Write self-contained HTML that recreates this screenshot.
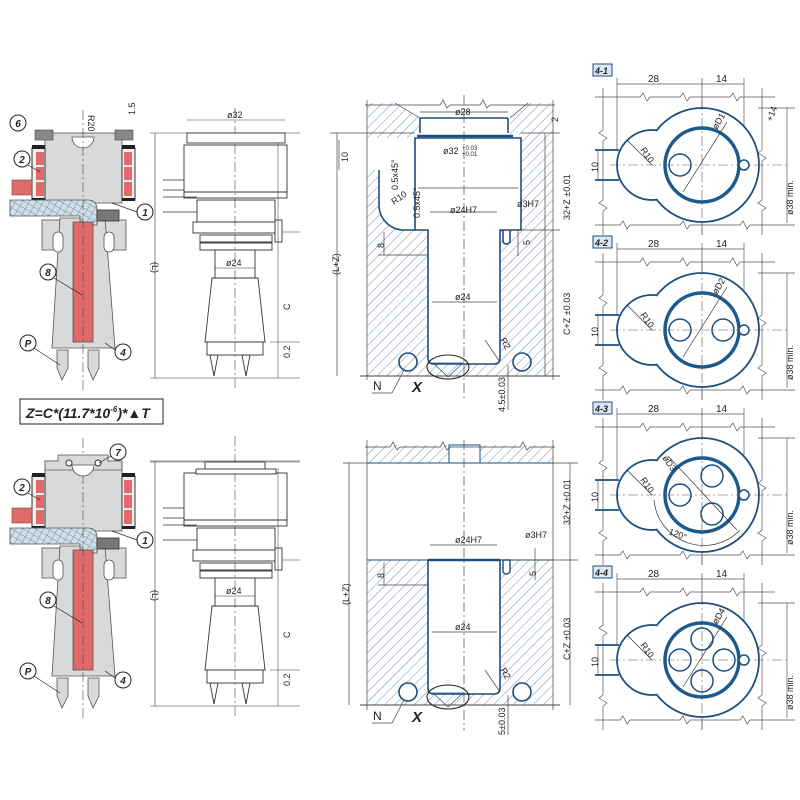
<!DOCTYPE html>
<html><head><meta charset="utf-8"><style>
html,body{margin:0;padding:0;background:#fff}
svg{display:block}
text{font-family:"Liberation Sans",sans-serif;fill:#222}
</style></head><body>
<svg width="800" height="800" viewBox="0 0 800 800" xmlns="http://www.w3.org/2000/svg">
<defs>
<pattern id="h" patternUnits="userSpaceOnUse" width="7" height="7" patternTransform="rotate(45)">
<rect width="7" height="7" fill="#fff"/><line x1="0" y1="0" x2="0" y2="7" stroke="#7d97b3" stroke-width="1.1"/></pattern>
<pattern id="br" patternUnits="userSpaceOnUse" width="6" height="6" patternTransform="rotate(30)">
<rect width="6" height="6" fill="#cfe0e8"/><line x1="0" y1="0" x2="0" y2="6" stroke="#7a8c99" stroke-width="1"/><line x1="0" y1="0" x2="6" y2="0" stroke="#7a8c99" stroke-width="1"/></pattern>

<g id="xs">
<rect x="45" y="133" width="77" height="70" fill="#d9d9d9" stroke="#555" stroke-width="0.8"/>
<path d="M72 137 A11 11 0 0 0 94 137 Z" fill="#fff" stroke="#555" stroke-width="0.8"/>
<rect x="32" y="148" width="13" height="52" fill="#eee" stroke="#333"/>
<rect x="36" y="152" width="8" height="13" fill="#e06a6a"/><rect x="36" y="167" width="8" height="13" fill="#e06a6a"/><rect x="36" y="182" width="8" height="14" fill="#e06a6a"/>
<rect x="122" y="148" width="13" height="52" fill="#eee" stroke="#333"/>
<rect x="124" y="152" width="8" height="13" fill="#e06a6a"/><rect x="124" y="167" width="8" height="13" fill="#e06a6a"/><rect x="124" y="182" width="8" height="14" fill="#e06a6a"/>
<rect x="32" y="145" width="13" height="4" fill="#222"/><rect x="122" y="145" width="13" height="4" fill="#222"/>
<rect x="32" y="198" width="13" height="3" fill="#222"/><rect x="122" y="198" width="13" height="3" fill="#222"/>
<rect x="12" y="180" width="20" height="15" fill="#e06a6a" stroke="#555" stroke-width="0.6"/>
<rect x="42" y="220" width="33" height="30" fill="#d9d9d9" stroke="#555" stroke-width="0.8"/>
<rect x="98" y="220" width="28" height="30" fill="#d9d9d9" stroke="#555" stroke-width="0.8"/>
<path d="M60 218 L105 218 L115 348 L52 348 Z" fill="#d9d9d9" stroke="#555" stroke-width="0.8"/>
<rect x="53" y="232" width="10" height="20" rx="5" fill="#fff" stroke="#555" stroke-width="0.8"/>
<rect x="104" y="232" width="10" height="20" rx="5" fill="#fff" stroke="#555" stroke-width="0.8"/>
<path d="M10 200 L88 200 Q97 200 97 210 L97 225 L80 225 L80 216 L10 216 Z" fill="url(#br)" stroke="#555" stroke-width="0.8"/>
<rect x="97" y="210" width="22" height="11" fill="#777" stroke="#333" stroke-width="0.8"/>
<rect x="73" y="222" width="20" height="120" fill="#e06a6a" stroke="#555" stroke-width="0.8"/>
<path d="M57 350 L68 350 L68 368 L62 380 L57 368 Z" fill="#d9d9d9" stroke="#555" stroke-width="0.8"/>
<path d="M88 350 L99 350 L99 368 L93 380 L88 368 Z" fill="#d9d9d9" stroke="#555" stroke-width="0.8"/>
<line x1="83" y1="110" x2="83" y2="390" stroke="#444" stroke-width="0.6" stroke-dasharray="10 3 2 3"/>
<g fill="#fff" stroke="#222" stroke-width="1">
<circle cx="145" cy="212" r="8"/><circle cx="22" cy="159" r="8"/><circle cx="48" cy="272" r="8"/><circle cx="123" cy="352" r="8"/><circle cx="28" cy="343" r="8"/></g>
<g stroke="#222" stroke-width="0.7"><line x1="137" y1="212" x2="112" y2="203"/><line x1="28" y1="165" x2="40" y2="172"/><line x1="54" y1="278" x2="82" y2="295"/><line x1="115" y1="350" x2="105" y2="343"/><line x1="34" y1="348" x2="60" y2="365"/></g>
</g>

<g id="mv" fill="#fff" stroke="#333" stroke-width="0.9">
<rect x="184" y="145" width="103" height="53"/>
<line x1="184" y1="192" x2="287" y2="192"/>
<rect x="197" y="200" width="78" height="22"/>
<rect x="193" y="222" width="85" height="11"/>
<rect x="200" y="235" width="72" height="7"/><rect x="200" y="243" width="72" height="7"/>
<rect x="215" y="250" width="40" height="28"/>
<path d="M212 278 L258 278 L265 342 L205 342 Z"/>
<rect x="207" y="342" width="56" height="13"/>
<path d="M210 355 L218 355 L214 376 Z"/><path d="M242 355 L250 355 L246 376 Z"/>
<line x1="163" y1="180" x2="184" y2="180" stroke-width="0.7"/><line x1="163" y1="190" x2="184" y2="190" stroke-width="0.7"/>
<line x1="163" y1="197" x2="197" y2="197" stroke-width="0.7"/><line x1="163" y1="212" x2="197" y2="212" stroke-width="0.7"/>
<rect x="275" y="220" width="7" height="22"/>
<line x1="235" y1="108" x2="235" y2="390" stroke="#444" stroke-width="0.6" stroke-dasharray="10 3 2 3"/>
<line x1="155" y1="133" x2="155" y2="378" stroke-width="0.6"/>
<line x1="150" y1="378" x2="300" y2="378" stroke-width="0.6"/>
<line x1="270" y1="342" x2="300" y2="342" stroke-width="0.6"/>
<line x1="150" y1="133" x2="300" y2="133" stroke-width="0.6"/>
<line x1="283" y1="232" x2="300" y2="232" stroke-width="0.6"/>
<line x1="215" y1="268" x2="255" y2="268" stroke-width="0.6"/>
<line x1="278" y1="140" x2="278" y2="378" stroke-width="0.5"/>
</g>

<g id="cm">
<g stroke="#555" stroke-width="0.7" fill="none">
<line x1="617" y1="78" x2="617" y2="150"/><line x1="744" y1="78" x2="744" y2="160"/><line x1="702" y1="78" x2="702" y2="235"/>
<line x1="617" y1="84" x2="744" y2="84"/>
<path d="M595 97 L640 97 L643 93 L647 101 L650 97 L680 97 L683 93 L687 101 L690 97 L730 97 L733 93 L737 101 L740 97 L775 97"/>
<path d="M595 225 L620 225 L623 221 L627 229 L630 225 L680 225 L683 221 L687 229 L690 225 L740 225 L743 221 L747 229 L750 225 L795 225"/>
<path d="M603 88 L603 130 L599 133 L607 138 L603 141 L603 200 L599 203 L607 208 L603 211 L603 235"/>
<path d="M762 88 L762 150 L758 153 L766 158 L762 161 L762 200 L758 203 L766 208 L762 211 L762 235"/>
<line x1="787" y1="108" x2="787" y2="223"/><line x1="758" y1="108" x2="795" y2="108"/>
<line x1="598" y1="150" x2="598" y2="180"/>
</g>
<circle cx="652" cy="165" r="35" fill="#fff" stroke="#1c4f80" stroke-width="1.8"/>
<circle cx="702" cy="165" r="57" fill="#fff" stroke="#1c4f80" stroke-width="1.8"/>
<circle cx="652" cy="165" r="34" fill="#fff"/>
<circle cx="702" cy="165" r="56" fill="#fff"/>
<line x1="595" y1="150" x2="619" y2="150" stroke="#1c4f80" stroke-width="1.8"/><line x1="595" y1="180" x2="619" y2="180" stroke="#1c4f80" stroke-width="1.8"/>
<line x1="610" y1="165" x2="790" y2="165" stroke="#555" stroke-width="0.6" stroke-dasharray="10 3 2 3"/>
<line x1="702" y1="100" x2="702" y2="235" stroke="#555" stroke-width="0.6" stroke-dasharray="10 3 2 3"/>
<circle cx="702" cy="165" r="37" fill="none" stroke="#1c5a8c" stroke-width="3.5"/>
<circle cx="744" cy="165" r="5" fill="#fff" stroke="#1c4f80" stroke-width="1.5"/>
<line x1="627" y1="140" x2="652" y2="165" stroke="#333" stroke-width="0.7"/>
</g>
</defs>

<!-- TOP ROW -->
<use href="#xs"/>
<use href="#mv"/>
<rect x="35" y="130" width="18" height="10" fill="#888" stroke="#444" stroke-width="0.6"/>
<rect x="115" y="130" width="18" height="10" fill="#888" stroke="#444" stroke-width="0.6"/>
<rect x="187" y="133" width="98" height="10" fill="#fff" stroke="#333" stroke-width="0.9"/>
<line x1="187" y1="120" x2="285" y2="120" stroke="#444" stroke-width="0.6"/>
<g font-size="10" font-style="italic" font-weight="bold" text-anchor="middle">
<text x="145" y="216">1</text><text x="22" y="163">2</text><text x="48" y="276">8</text><text x="123" y="356">4</text><text x="28" y="347">P</text>
<circle cx="18" cy="123" r="8" fill="#fff" stroke="#222"/><text x="18" y="127">6</text>
</g>
<g font-size="9" fill="#222">
<text x="88" y="115" transform="rotate(90 88 115)">R20</text>
<text x="135" y="115" transform="rotate(-90 135 115)">1.5</text>
<text x="227" y="118">ø32</text><text x="226" y="266">ø24</text>
<text x="152" y="262" transform="rotate(90 152 262)">(L)</text>
<text x="290" y="310" transform="rotate(-90 290 310)">C</text>
<text x="290" y="358" transform="rotate(-90 290 358)">0.2</text>
</g>

<!-- section 3 top -->
<rect x="367" y="103" width="186" height="273" fill="url(#h)"/>
<g fill="#fff">
<path d="M395 103 L420 118 L510 118 L528 103 Z"/>
<rect x="420" y="115" width="90" height="20"/>
<rect x="415" y="135" width="106" height="95"/>
<path d="M367 138 L415 138 L415 230 L403 230 A25 25 0 0 1 379 205 L379 170 L367 170 Z"/>
<path d="M428 230 L500 230 L500 358 Q500 364 494 364 L434 364 Q428 364 428 358 Z"/>
<rect x="503" y="230" width="7" height="14"/>
</g>
<g fill="none" stroke="#1c4f80" stroke-width="1.6">
<path d="M379 170 L379 205 A25 25 0 0 0 403 230 L428 230 L428 358 Q428 364 434 364 L494 364 Q500 364 500 358 L500 230 L521 230 L521 138 L415 138 L415 230"/>
<line x1="417" y1="136" x2="513" y2="136" stroke-width="2.5"/>
<path d="M420 118 L420 133 M508 118 L508 133 M420 118 L508 118"/>
<path d="M503 230 L503 242 Q506 246 510 242 L510 230"/>
<circle cx="408" cy="362" r="9"/><circle cx="522" cy="362" r="9"/>
</g>
<g fill="none" stroke="#444" stroke-width="0.7">
<path d="M395 103 L420 118 M528 103 L510 118"/>
<path d="M365 105 L440 105 L443 100 L447 108 L450 105 L480 105 L483 100 L487 108 L490 105 L555 105"/>
<path d="M367 100 L367 380"/><path d="M553 100 L553 380"/>
<line x1="360" y1="376" x2="560" y2="376" stroke="#444" stroke-width="1"/>
<ellipse cx="448" cy="367" rx="21" ry="12" stroke="#222" stroke-width="1.1"/>
<path d="M433 363 L463 363 L448 377 Z" stroke="#1c4f80"/>
<line x1="337" y1="133" x2="337" y2="376"/><line x1="330" y1="133" x2="415" y2="133"/>
<line x1="339" y1="140" x2="339" y2="170"/>
<line x1="545" y1="133" x2="545" y2="376"/><line x1="521" y1="133" x2="560" y2="133"/><line x1="500" y1="230" x2="560" y2="230"/>
<line x1="420" y1="112" x2="508" y2="112"/><line x1="418" y1="188" x2="518" y2="188"/>
<line x1="430" y1="212" x2="497" y2="212"/><line x1="432" y1="302" x2="497" y2="302"/>
<line x1="464" y1="95" x2="464" y2="400" stroke-dasharray="10 3 2 3"/>
<line x1="384" y1="232" x2="384" y2="255"/><line x1="378" y1="255" x2="428" y2="255"/>
<line x1="518" y1="230" x2="518" y2="256"/>
<line x1="404" y1="370" x2="392" y2="393"/><line x1="372" y1="393" x2="392" y2="393"/>
<line x1="508" y1="365" x2="508" y2="410"/>
<line x1="485" y1="340" x2="500" y2="362"/>
</g>
<g font-size="9">
<text x="455" y="115">ø28</text>
<text x="443" y="154">ø32</text><text x="462" y="150" font-size="6">+0.03</text><text x="462" y="156" font-size="6">+0.01</text>
<text x="450" y="213">ø24H7</text><text x="517" y="207">ø3H7</text><text x="455" y="300">ø24</text>
<text x="348" y="162" transform="rotate(-90 348 162)">10</text>
<text x="398" y="190" transform="rotate(-90 398 190)">0.5x45°</text>
<text x="420" y="218" transform="rotate(-90 420 218)">0.5x45°</text>
<text x="394" y="205" transform="rotate(-35 394 205)">R10</text>
<text x="384" y="248" transform="rotate(-90 384 248)">8</text>
<text x="530" y="245" transform="rotate(-90 530 245)">5</text>
<text x="558" y="122" transform="rotate(-90 558 122)">2</text>
<text x="570" y="220" transform="rotate(-90 570 220)">32+Z ±0.01</text>
<text x="570" y="335" transform="rotate(-90 570 335)">C+Z ±0.03</text>
<text x="500" y="340" transform="rotate(60 500 340)">R2</text>
<text x="339" y="275" transform="rotate(-90 339 275)">(L+Z)</text>
<text x="505" y="412" transform="rotate(-90 505 412)">4.5±0.03</text>
<text x="373" y="390" font-size="12">N</text>
<text x="412" y="392" font-size="15" font-style="italic" font-weight="bold">X</text>
</g>

<!-- formula -->
<rect x="20" y="399" width="143" height="25" fill="#fff" stroke="#222" stroke-width="1"/>
<text x="26" y="418" font-size="14" font-style="italic" font-weight="bold">Z=C*(11.7*10<tspan font-size="8" dy="-6">-6</tspan><tspan dy="6">)*▲T</tspan></text>

<!-- BOTTOM ROW -->
<use href="#xs" transform="translate(0,328)"/>
<use href="#mv" transform="translate(0,328)"/>
<g font-size="10" font-style="italic" font-weight="bold" text-anchor="middle">
<text x="145" y="544">1</text><text x="22" y="491">2</text><text x="48" y="604">8</text><text x="123" y="684">4</text><text x="28" y="675">P</text>
</g>
<path d="M45 461 L58 461 L58 455 L108 455 L108 461 L122 461 L122 470 L45 470 Z" fill="#d9d9d9" stroke="#555" stroke-width="0.8"/>
<path d="M72 465 A11 11 0 0 0 94 465 Z" fill="#fff" stroke="#555" stroke-width="0.8"/>
<circle cx="69" cy="463" r="3" fill="#fff" stroke="#333"/><circle cx="98" cy="463" r="3" fill="#fff" stroke="#333"/>
<circle cx="118" cy="452" r="8" fill="#fff" stroke="#222"/>
<line x1="111" y1="456" x2="99" y2="463" stroke="#222" stroke-width="0.7"/>
<text x="118" y="456" font-size="10" font-style="italic" font-weight="bold" text-anchor="middle">7</text>
<rect x="205" y="462" width="60" height="11" fill="#fff" stroke="#333" stroke-width="0.9"/>
<rect x="196" y="469" width="80" height="5" fill="#fff" stroke="#333" stroke-width="0.9"/>
<line x1="150" y1="462" x2="300" y2="462" stroke="#444" stroke-width="0.6"/>
<g font-size="9" fill="#222">
<text x="226" y="594">ø24</text>
<text x="152" y="590" transform="rotate(90 152 590)">(L)</text>
<text x="290" y="638" transform="rotate(-90 290 638)">C</text>
<text x="290" y="686" transform="rotate(-90 290 686)">0.2</text>
</g>

<!-- section 3 bottom -->
<rect x="367" y="445" width="186" height="18" fill="url(#h)"/>
<rect x="449" y="445" width="31" height="18" fill="#fff" stroke="#1c4f80" stroke-width="1"/>
<rect x="367" y="560" width="186" height="145" fill="url(#h)"/>
<path d="M428 560 L500 560 L500 688 Q500 694 494 694 L434 694 Q428 694 428 688 Z" fill="#fff" stroke="#1c4f80" stroke-width="1.6"/>
<line x1="367" y1="463" x2="553" y2="463" stroke="#1c4f80" stroke-width="1"/>
<line x1="367" y1="560" x2="553" y2="560" stroke="#1c4f80" stroke-width="1"/>
<line x1="428" y1="560" x2="500" y2="560" stroke="#1c4f80" stroke-width="2.5"/>
<path d="M503 560 L503 572 Q506 576 510 572 L510 560 Z" fill="#fff" stroke="#1c4f80" stroke-width="1.4"/>
<circle cx="408" cy="692" r="9" fill="#fff" stroke="#1c4f80" stroke-width="1.6"/><circle cx="522" cy="692" r="9" fill="#fff" stroke="#1c4f80" stroke-width="1.6"/>
<g fill="none" stroke="#444" stroke-width="0.7">
<path d="M365 447 L390 447 L393 442 L397 450 L400 447 L440 447 L443 442 L447 450 L450 447 L520 447 L523 442 L527 450 L530 447 L555 447"/>
<path d="M367 440 L367 710"/><path d="M553 440 L553 710"/>
<line x1="360" y1="705" x2="560" y2="705" stroke-width="1"/>
<ellipse cx="448" cy="697" rx="21" ry="12" stroke="#222" stroke-width="1.1"/>
<path d="M433 693 L463 693 L448 707 Z" stroke="#1c4f80"/>
<line x1="349" y1="463" x2="349" y2="705"/><line x1="343" y1="463" x2="367" y2="463"/>
<line x1="570" y1="463" x2="570" y2="705"/><line x1="553" y1="463" x2="578" y2="463"/><line x1="510" y1="560" x2="578" y2="560"/>
<line x1="430" y1="545" x2="497" y2="545"/><line x1="432" y1="632" x2="497" y2="632"/>
<line x1="464" y1="440" x2="464" y2="730" stroke-dasharray="10 3 2 3"/>
<line x1="384" y1="562" x2="384" y2="585"/><line x1="378" y1="585" x2="428" y2="585"/>
<line x1="535" y1="548" x2="535" y2="580"/>
<line x1="404" y1="700" x2="392" y2="723"/><line x1="372" y1="723" x2="392" y2="723"/>
<line x1="508" y1="695" x2="508" y2="735"/>
<line x1="485" y1="670" x2="500" y2="692"/>
</g>
<g font-size="9">
<text x="455" y="543">ø24H7</text><text x="525" y="538">ø3H7</text><text x="455" y="630">ø24</text>
<text x="384" y="578" transform="rotate(-90 384 578)">8</text>
<text x="536" y="576" transform="rotate(-90 536 576)">5</text>
<text x="570" y="525" transform="rotate(-90 570 525)">32+Z ±0.01</text>
<text x="570" y="660" transform="rotate(-90 570 660)">C+Z ±0.03</text>
<text x="500" y="670" transform="rotate(60 500 670)">R2</text>
<text x="349" y="605" transform="rotate(-90 349 605)">(L+Z)</text>
<text x="505" y="735" transform="rotate(-90 505 735)">5±0.03</text>
<text x="373" y="720" font-size="12">N</text>
<text x="412" y="722" font-size="15" font-style="italic" font-weight="bold">X</text>
</g>

<!-- right circles -->
<use href="#cm"/>
<use href="#cm" transform="translate(0,165)"/>
<use href="#cm" transform="translate(0,330)"/>
<use href="#cm" transform="translate(0,495)"/>
<g fill="none" stroke="#1c4f80" stroke-width="1.5">
<circle cx="680" cy="165" r="11"/>
<circle cx="680" cy="330" r="11"/><circle cx="723" cy="330" r="11"/>
<circle cx="680" cy="495" r="11"/><circle cx="712" cy="476" r="11"/><circle cx="712" cy="514" r="11"/>
<circle cx="680" cy="660" r="11"/><circle cx="724" cy="660" r="11"/><circle cx="702" cy="639" r="11"/><circle cx="702" cy="681" r="11"/>
</g>
<g stroke="#333" stroke-width="0.7" fill="none">
<line x1="683" y1="192" x2="727" y2="122"/><line x1="683" y1="357" x2="727" y2="287"/>
<line x1="668" y1="456" x2="737" y2="530"/><line x1="683" y1="687" x2="727" y2="617"/>
<path d="M654 500 A50 50 0 0 0 740 530"/>
</g>
<g font-size="9">
<g font-size="10"><text x="648" y="82">28</text><text x="716" y="82">14</text>
<text x="648" y="247">28</text><text x="716" y="247">14</text>
<text x="648" y="412">28</text><text x="716" y="412">14</text>
<text x="648" y="577">28</text><text x="716" y="577">14</text></g>
<g font-style="italic" font-weight="bold" fill="#1c4f80">
<rect x="593" y="64" width="19" height="12" fill="#dbe8f2" stroke="#1c4f80"/><text x="595" y="74">4-1</text>
<rect x="593" y="236" width="19" height="12" fill="#dbe8f2" stroke="#1c4f80"/><text x="595" y="246">4-2</text>
<rect x="593" y="402" width="19" height="12" fill="#dbe8f2" stroke="#1c4f80"/><text x="595" y="412">4-3</text>
<rect x="593" y="566" width="19" height="12" fill="#dbe8f2" stroke="#1c4f80"/><text x="595" y="576">4-4</text></g>
<text x="598" y="172" transform="rotate(-90 598 172)">10</text><text x="598" y="337" transform="rotate(-90 598 337)">10</text>
<text x="598" y="502" transform="rotate(-90 598 502)">10</text><text x="598" y="667" transform="rotate(-90 598 667)">10</text>
<text x="793" y="215" transform="rotate(-90 793 215)">ø38 min.</text><text x="793" y="380" transform="rotate(-90 793 380)">ø38 min.</text>
<text x="793" y="545" transform="rotate(-90 793 545)">ø38 min.</text><text x="793" y="710" transform="rotate(-90 793 710)">ø38 min.</text>
<text x="640" y="150" transform="rotate(55 640 150)">R10</text><text x="640" y="315" transform="rotate(55 640 315)">R10</text>
<text x="640" y="480" transform="rotate(55 640 480)">R10</text><text x="640" y="645" transform="rotate(55 640 645)">R10</text>
<text x="717" y="130" transform="rotate(-60 717 130)">øD1</text><text x="717" y="295" transform="rotate(-60 717 295)">øD2</text>
<text x="662" y="458" transform="rotate(55 662 458)">øD3</text><text x="717" y="625" transform="rotate(-60 717 625)">øD4</text>
<text x="668" y="534" transform="rotate(20 668 534)">120°</text>
<text x="772" y="122" transform="rotate(-70 772 122)">+14</text>
</g>
</svg>
</body></html>
